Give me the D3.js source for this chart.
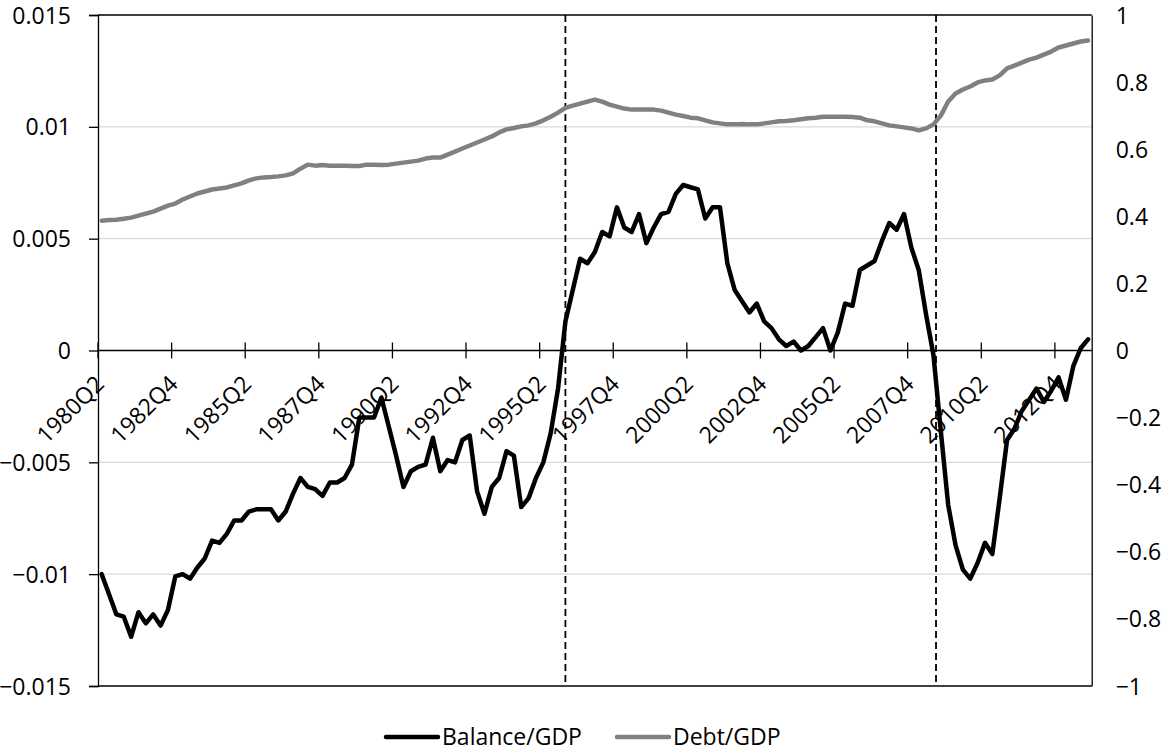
<!DOCTYPE html>
<html>
<head>
<meta charset="utf-8">
<script src="https://cdn.jsdelivr.net/npm/d3@7"></script>
<style>
  body { margin: 0; background: #fff; }
  svg text { font-family: "Open Sans", "Noto Sans", sans-serif; fill: #000; }
</style>
</head>
<body>
<div id="chart"></div>
<script>
// quarterly categories, 1980Q2 .. 2013Q4
var startYear = 1980, startQuarter = 2, nQuarters = 135;
var quarters = [];
for (var k = 0; k < nQuarters; k++) {
  var q = startQuarter - 1 + k;
  quarters.push((startYear + Math.floor(q / 4)) + "Q" + (q % 4 + 1));
}

var balanceGDP = [
  -0.0100, -0.0109, -0.0118, -0.0119, -0.0128, -0.0117, -0.0122, -0.0118, -0.0123, -0.0116,
  -0.0101, -0.0100, -0.0102, -0.0097, -0.0093, -0.0085, -0.0086, -0.0082, -0.0076, -0.0076,
  -0.0072, -0.0071, -0.0071, -0.0071, -0.0076, -0.0072, -0.0064, -0.0057, -0.0061, -0.0062,
  -0.0065, -0.0059, -0.0059, -0.0057, -0.0051, -0.0030, -0.0030, -0.0030, -0.0021, -0.0034,
  -0.0047, -0.0061, -0.0054, -0.0052, -0.0051, -0.0039, -0.0054, -0.0049, -0.0050, -0.0040,
  -0.0038, -0.0063, -0.0073, -0.0061, -0.0057, -0.0045, -0.0047, -0.0070, -0.0066, -0.0057,
  -0.0050, -0.0037, -0.0017, 0.0013, 0.0027, 0.0041, 0.0039, 0.0044, 0.0053, 0.0051,
  0.0064, 0.0055, 0.0053, 0.0061, 0.0048, 0.0055, 0.0061, 0.0062, 0.0070, 0.0074,
  0.0073, 0.0072, 0.0059, 0.0064, 0.0064, 0.0039, 0.0027, 0.0022, 0.0017, 0.0021,
  0.0013, 0.0010, 0.0005, 0.0002, 0.0004, 0.0000, 0.0002, 0.0006, 0.0010, 0.0000,
  0.0008, 0.0021, 0.0020, 0.0036, 0.0038, 0.0040, 0.0049, 0.0057, 0.0054, 0.0061,
  0.0046, 0.0036, 0.0016, -0.0002, -0.0036, -0.0069, -0.0087, -0.0098, -0.0102, -0.0095,
  -0.0086, -0.0091, -0.0066, -0.0040, -0.0035, -0.0027, -0.0022, -0.0017, -0.0023, -0.0018,
  -0.0012, -0.0022, -0.0007, 0.0001, 0.0005
];

var debtGDP = [
  0.387, 0.389, 0.390, 0.393, 0.396, 0.402, 0.408, 0.414, 0.423, 0.432,
  0.438, 0.450, 0.459, 0.468, 0.474, 0.480, 0.483, 0.486, 0.492, 0.498,
  0.507, 0.513, 0.516, 0.517, 0.519, 0.522, 0.528, 0.542, 0.554, 0.551,
  0.553, 0.551, 0.551, 0.551, 0.550, 0.550, 0.554, 0.554, 0.553, 0.554,
  0.557, 0.560, 0.563, 0.566, 0.572, 0.575, 0.575, 0.584, 0.593, 0.602,
  0.611, 0.620, 0.629, 0.638, 0.650, 0.659, 0.663, 0.668, 0.671, 0.677,
  0.686, 0.697, 0.709, 0.723, 0.730, 0.736, 0.742, 0.748, 0.742, 0.733,
  0.727, 0.721, 0.718, 0.718, 0.718, 0.718, 0.715, 0.709, 0.703, 0.699,
  0.694, 0.692, 0.686, 0.680, 0.677, 0.674, 0.674, 0.675, 0.674, 0.674,
  0.677, 0.680, 0.683, 0.684, 0.686, 0.689, 0.692, 0.694, 0.697, 0.697,
  0.697, 0.697, 0.696, 0.694, 0.686, 0.683, 0.677, 0.671, 0.668, 0.665,
  0.662, 0.656, 0.662, 0.674, 0.700, 0.742, 0.766, 0.778, 0.787, 0.799,
  0.805, 0.808, 0.820, 0.841, 0.849, 0.858, 0.867, 0.873, 0.882, 0.891,
  0.903, 0.909, 0.915, 0.921, 0.924
];

var leftTicks = [-0.015, -0.01, -0.005, 0, 0.005, 0.01, 0.015];
var rightTicks = [-1, -0.8, -0.6, -0.4, -0.2, 0, 0.2, 0.4, 0.6, 0.8, 1];
var labelEvery = 10;
// dashed break markers, in category index units
var breakMarkers = [63, 113.35];
var seriesNames = ["Balance/GDP", "Debt/GDP"];

var width = 1161, height = 751;
var margin = {top: 15, right: 69.3, bottom: 65, left: 98};
var plotW = width - margin.left - margin.right,
    plotH = height - margin.top - margin.bottom;

var svg = d3.select("#chart").append("svg")
  .attr("width", width)
  .attr("height", height);

var g = svg.append("g")
  .attr("transform", "translate(" + margin.left + "," + margin.top + ")");

var x = d3.scaleBand().domain(quarters).range([0, plotW]).padding(0);
var xi = d3.scaleLinear().domain([-0.5, quarters.length - 0.5]).range([0, plotW]);
var yL = d3.scaleLinear().domain([-0.015, 0.015]).range([plotH, 0]);
var yR = d3.scaleLinear().domain([-1, 1]).range([plotH, 0]);
var cx = function(q) { return x(q) + x.bandwidth() / 2; };

// gridlines
g.selectAll(".grid").data(leftTicks.filter(function(t) { return t !== 0 && Math.abs(t) < 0.015; }))
  .enter().append("line")
  .attr("x1", 0).attr("x2", plotW)
  .attr("y1", function(d) { return yL(d); }).attr("y2", function(d) { return yL(d); })
  .attr("stroke", "#d9d9d9").attr("stroke-width", 1.3);

// frame top / bottom
[0.015, -0.015].forEach(function(t) {
  g.append("line").attr("x1", 0).attr("x2", plotW)
    .attr("y1", yL(t)).attr("y2", yL(t))
    .attr("stroke", "#000").attr("stroke-width", 1.3);
});

// left axis
var axL = g.append("g").call(d3.axisLeft(yL).tickValues(leftTicks).tickSize(9).tickPadding(18)
  .tickFormat(function(d) { return d3.format("")(+d.toFixed(3)); }));
axL.select(".domain").attr("stroke-width", 1.3);
axL.selectAll(".tick line").attr("stroke-width", 1.3);
axL.selectAll("text").style("font-size", "23px").attr("dy", "0.35em");

// right axis (no ticks)
var axR = g.append("g").attr("transform", "translate(" + plotW + ",0)")
  .call(d3.axisRight(yR).tickValues(rightTicks).tickSize(0).tickPadding(24)
  .tickFormat(function(d) { return d3.format("")(+d.toFixed(1)); }));
axR.select(".domain").attr("stroke-width", 1.3);
axR.selectAll("text").style("font-size", "23px").attr("dy", "0.35em");

// category axis at zero
var zeroY = yL(0);
g.append("line").attr("x1", 0).attr("x2", plotW).attr("y1", zeroY).attr("y2", zeroY)
  .attr("stroke", "#000").attr("stroke-width", 1.3);
var tickQ = quarters.filter(function(d, i) { return i % labelEvery === 0; });
g.selectAll(".xtick").data(tickQ).enter().append("line")
  .attr("x1", function(d) { return x(d); }).attr("x2", function(d) { return x(d); })
  .attr("y1", zeroY - 8).attr("y2", zeroY + 8)
  .attr("stroke", "#000").attr("stroke-width", 1.3);
g.selectAll(".xlab").data(tickQ).enter().append("text")
  .attr("transform", function(d) { return "translate(" + (cx(d) + 4) + "," + (zeroY + 35) + ") rotate(-45)"; })
  .attr("text-anchor", "end")
  .style("font-size", "23px")
  .text(function(d) { return d; });

// dashed markers
g.selectAll(".marker").data(breakMarkers).enter().append("line")
  .attr("x1", function(d) { return xi(d); }).attr("x2", function(d) { return xi(d); })
  .attr("y1", 0).attr("y2", plotH)
  .attr("stroke", "#000").attr("stroke-width", 1.8).attr("stroke-dasharray", "7,4");

// series
var lineL = d3.line().x(function(d, i) { return cx(quarters[i]); }).y(function(d) { return yL(d); });
var lineR = d3.line().x(function(d, i) { return cx(quarters[i]); }).y(function(d) { return yR(d); });

g.append("path").datum(debtGDP).attr("d", lineR)
  .attr("fill", "none").attr("stroke", "#808080").attr("stroke-width", 4.5)
  .attr("stroke-linejoin", "round").attr("stroke-linecap", "round");
g.append("path").datum(balanceGDP).attr("d", lineL)
  .attr("fill", "none").attr("stroke", "#000").attr("stroke-width", 4.5)
  .attr("stroke-linejoin", "round").attr("stroke-linecap", "round");

// legend
var legendItems = [
  {name: seriesNames[0], color: "#000", x: 386},
  {name: seriesNames[1], color: "#808080", x: 617}
];
var legend = svg.selectAll(".legend").data(legendItems).enter().append("g")
  .attr("transform", function(d) { return "translate(" + d.x + ",737)"; });
legend.append("line").attr("x1", 0).attr("x2", 52).attr("y1", 0).attr("y2", 0)
  .attr("stroke", function(d) { return d.color; }).attr("stroke-width", 4.5)
  .attr("stroke-linecap", "round");
legend.append("text").attr("x", 56).attr("dy", "0.35em")
  .style("font-size", "23px")
  .text(function(d) { return d.name; });
</script>
</body>
</html>
